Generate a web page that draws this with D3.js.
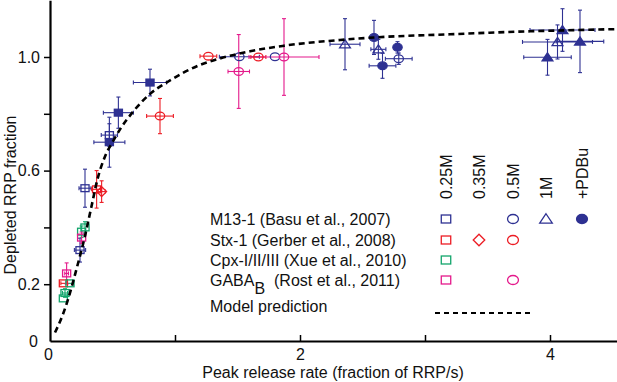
<!DOCTYPE html>
<html>
<head>
<meta charset="utf-8">
<script src="https://cdn.jsdelivr.net/npm/d3@7"></script>
<style>
  body { margin: 0; background: #fff; }
  text { font-family: "Liberation Sans", Arial, sans-serif; font-size: 16px; fill: #111; }
</style>
</head>
<body>
<svg id="chart" width="617" height="382"></svg>
<script>
// each point: [x, y, xErr, yErr]
const m13Open25 = [[0.28, 0.538, 0.048, 0.067], [0.24, 0.32, 0.045, 0.042], [0.475, 0.725, 0.065, 0.04]];
const m13Filled25 = [[0.475, 0.70, 0.124, 0.088], [0.547, 0.804, 0.12, 0.055], [0.8, 0.91, 0.133, 0.047]];
const m13Open5 = [[1.515, 1.001, 0.16, 0], [1.8, 1.001, 0, 0], [2.79, 0.994, 0.107, 0.02]];
const m13Open1 = [[2.36, 1.045, 0.12, 0.09], [2.627, 1.027, 0.06, 0.035], [4.06, 1.053, 0.28, 0.06]];
const m13Filled1 = [[4.1, 1.095, 0.26, 0.075], [4.24, 1.055, 0.19, 0.11], [3.98, 0.999, 0.19, 0.063]];
const m13Pdbu = [[2.592, 1.069, 0, 0.06], [2.78, 1.034, 0, 0.02], [2.66, 0.969, 0.107, 0.044]];
const stxSq25 = [[0.373, 0.534, 0.04, 0.066], [0.107, 0.203, 0.02, 0]];
const stxDia35 = [[0.413, 0.526, 0.03, 0.038]];
const stxCirc5 = [[0.88, 0.792, 0.107, 0.062], [1.267, 1.003, 0.067, 0], [1.667, 1.0, 0.06, 0]];
const cpxSq25 = [[0.28, 0.40, 0, 0.02], [0.253, 0.385, 0, 0.02], [0.16, 0.203, 0.02, 0], [0.12, 0.169, 0.02, 0.015], [0.107, 0.15, 0, 0]];
const gabaSq25 = [[0.253, 0.364, 0, 0.02], [0.133, 0.238, 0.015, 0.037]];
const gabaCirc5 = [[1.51, 0.949, 0.086, 0.13], [1.872, 1.0, 0.28, 0.135]];

const modelX = [0.04, 0.1, 0.15, 0.21, 0.28, 0.33, 0.38, 0.44, 0.5, 0.56, 0.66, 0.8, 0.94, 1.2, 1.36, 1.6, 1.86, 2.32, 2.6, 3.2, 3.8, 4.52];
const modelY = [0.03, 0.09, 0.155, 0.25, 0.37, 0.47, 0.57, 0.65, 0.70, 0.745, 0.805, 0.87, 0.912, 0.972, 0.995, 1.02, 1.039, 1.06, 1.069, 1.08, 1.09, 1.098];

const xTicks = [0, 1, 2, 3, 4];
const yTicks = [0, 0.2, 0.4, 0.6, 0.8, 1.0];
const doseLabels = ["0.25M", "0.35M", "0.5M", "1M", "+PDBu"];
const groupLabels = ["M13-1 (Basu et al., 2007)", "Stx-1 (Gerber et al., 2008)", "Cpx-I/II/III (Xue et al., 2010)", "GABA|B|  (Rost et al., 2011)", "Model prediction"];

const blue = "#2e3192", red = "#ec1c24", green = "#12a56b", pink = "#e4198b";

const series = [
  { data: m13Open25, color: blue, shape: "square", filled: false, row: 0, col: 0 },
  { data: m13Filled25, color: blue, shape: "square", filled: true },
  { data: m13Open5, color: blue, shape: "circle", filled: false, row: 0, col: 2 },
  { data: m13Open1, color: blue, shape: "triangle", filled: false, row: 0, col: 3 },
  { data: m13Filled1, color: blue, shape: "triangle", filled: true },
  { data: m13Pdbu, color: blue, shape: "circle", filled: true, row: 0, col: 4 },
  { data: stxSq25, color: red, shape: "square", filled: false, row: 1, col: 0 },
  { data: stxDia35, color: red, shape: "diamond", filled: false, row: 1, col: 1 },
  { data: stxCirc5, color: red, shape: "circle", filled: false, row: 1, col: 2 },
  { data: cpxSq25, color: green, shape: "square", filled: false, row: 2, col: 0 },
  { data: gabaSq25, color: pink, shape: "square", filled: false, row: 3, col: 0 },
  { data: gabaCirc5, color: pink, shape: "circle", filled: false, row: 3, col: 2 }
];

const svg = d3.select("#chart");
const x = d3.scaleLinear().domain([0, 4.536]).range([50, 617]);
const y = d3.scaleLinear().domain([0, 1.2]).range([341, 0.2]);

function drawMarker(g, shape, cx, cy, color, filled, k) {
  const fill = filled ? color : "none";
  let el;
  if (shape === "square") {
    el = g.append("rect").attr("x", cx - 4.5 * k).attr("y", cy - 3.8 * k)
      .attr("width", 9 * k).attr("height", 7.6 * k);
  } else if (shape === "circle") {
    el = g.append("ellipse").attr("cx", cx).attr("cy", cy).attr("rx", 5.2 * k).attr("ry", 4.3 * k);
  } else if (shape === "triangle") {
    el = g.append("path").attr("d", `M${cx},${cy - 5 * k}L${cx + 6 * k},${cy + 4 * k}L${cx - 6 * k},${cy + 4 * k}Z`);
  } else {
    el = g.append("path").attr("d", `M${cx},${cy - 5.5 * k}L${cx + 5.5 * k},${cy}L${cx},${cy + 5.5 * k}L${cx - 5.5 * k},${cy}Z`);
  }
  el.attr("fill", fill).attr("stroke", color).attr("stroke-width", 1.3);
}

// error bars
const errG = svg.append("g").attr("stroke-width", 1.1);
series.forEach(s => {
  s.data.forEach(d => {
    const cx = x(d[0]), cy = y(d[1]);
    if (d[2] > 0) {
      const x0 = x(d[0] - d[2]), x1 = x(d[0] + d[2]);
      errG.append("line").attr("x1", x0).attr("x2", x1).attr("y1", cy).attr("y2", cy).attr("stroke", s.color);
      [x0, x1].forEach(v => errG.append("line").attr("x1", v).attr("x2", v).attr("y1", cy - 2).attr("y2", cy + 2).attr("stroke", s.color));
    }
    if (d[3] > 0) {
      const y0 = y(d[1] - d[3]), y1 = y(d[1] + d[3]);
      errG.append("line").attr("x1", cx).attr("x2", cx).attr("y1", y0).attr("y2", y1).attr("stroke", s.color);
      [y0, y1].forEach(v => errG.append("line").attr("x1", cx - 2).attr("x2", cx + 2).attr("y1", v).attr("y2", v).attr("stroke", s.color));
    }
  });
});

// markers
const markG = svg.append("g");
series.forEach(s => {
  s.data.forEach(d => drawMarker(markG, s.shape, x(d[0]), y(d[1]), s.color, s.filled, 0.9));
});

// model prediction
const line = d3.line().x(d => x(d[0])).y(d => y(d[1])).curve(d3.curveMonotoneX);
svg.append("path")
  .datum(modelX.map((v, i) => [v, modelY[i]]))
  .attr("d", line)
  .attr("fill", "none")
  .attr("stroke", "#000")
  .attr("stroke-width", 2.6)
  .attr("stroke-dasharray", "6,4");

// axes
const xAxis = svg.append("g")
  .attr("transform", "translate(0,341)")
  .call(d3.axisBottom(x).tickValues(xTicks).tickSize(-6).tickSizeOuter(0).tickPadding(8)
    .tickFormat(d => (d % 2 === 0 ? d3.format("d")(d) : "")));
const yAxis = svg.append("g")
  .attr("transform", "translate(50,0)")
  .call(d3.axisLeft(y).tickValues(yTicks).tickSize(6).tickSizeOuter(0).tickPadding(4)
    .tickFormat(d => (d === 0 ? "0" : [0.2, 0.6, 1.0].includes(d) ? d3.format(".1f")(d) : "")));
[xAxis, yAxis].forEach(a => {
  a.select(".domain").attr("stroke-width", 2.2);
  a.selectAll(".tick line").attr("stroke-width", 1.5);
  a.selectAll("text").style("font-size", "16px").attr("fill", "#111");
});
yAxis.selectAll(".tick").filter(d => d === 0).select("line").remove();
yAxis.selectAll(".tick").filter(d => d === 0).select("text").attr("x", -12);
xAxis.selectAll(".tick").filter(d => d === 0).select("line").remove();
xAxis.selectAll(".tick").filter(d => d === 0).select("text").attr("x", -2);

svg.append("text").attr("x", 333).attr("y", 378).attr("text-anchor", "middle")
  .text("Peak release rate (fraction of RRP/s)");
svg.append("text").attr("transform", "translate(16,195) rotate(-90)").attr("text-anchor", "middle")
  .text("Depleted RRP fraction");

// legend
const rowY = [219, 240, 260, 280, 306];
const colX = [446, 479, 513, 546, 582];
const leg = svg.append("g");
doseLabels.forEach((t, i) => {
  leg.append("text").attr("transform", `translate(${colX[i] + 6},199) rotate(-90)`).text(t);
});
groupLabels.forEach((t, i) => {
  const tx = leg.append("text").attr("x", 210).attr("y", rowY[i] + 6);
  const parts = t.split("|");
  if (parts.length === 3) {
    tx.append("tspan").text(parts[0]);
    tx.append("tspan").attr("dy", 8).text(parts[1]);
    tx.append("tspan").attr("dy", -8).attr("xml:space", "preserve").text(parts[2]);
  } else {
    tx.text(t);
  }
});
series.filter(s => s.row !== undefined).forEach(s => {
  drawMarker(leg, s.shape, colX[s.col], rowY[s.row], s.color, s.filled, 1.05);
});
leg.append("line").attr("x1", 435).attr("x2", 530).attr("y1", 313).attr("y2", 313)
  .attr("stroke", "#000").attr("stroke-width", 2.2).attr("stroke-dasharray", "5,4");
</script>
</body>
</html>
